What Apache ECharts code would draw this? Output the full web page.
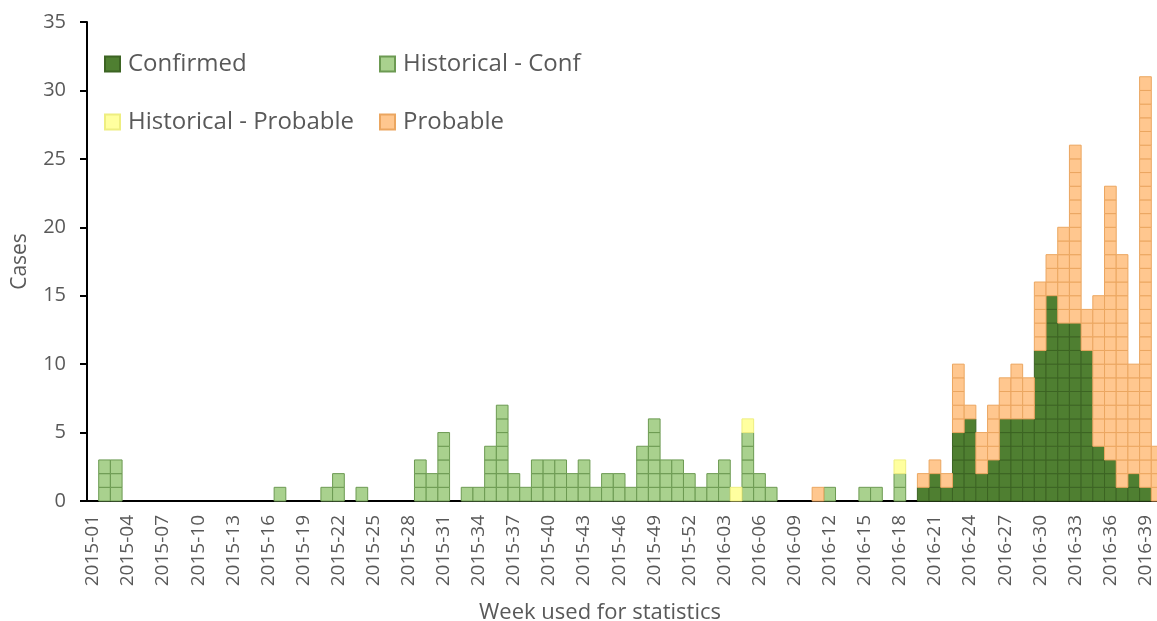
<!DOCTYPE html>
<html>
<head>
<meta charset="utf-8">
<script src="https://cdn.jsdelivr.net/npm/echarts@6/dist/echarts.min.js"></script>
<style>
  html, body { margin: 0; padding: 0; background: #fff; }
  #chart { width: 1157px; height: 621px; }
</style>
</head>
<body>
<div id="chart"></div>
<script>
// weeks 2015-01 .. 2015-52, 2016-01 .. 2016-40 (last one is cut by the right edge)
var weeks = [];
for (var w = 1; w <= 52; w++) weeks.push('2015-' + (w < 10 ? '0' : '') + w);
for (var w2 = 1; w2 <= 40; w2++) weeks.push('2016-' + (w2 < 10 ? '0' : '') + w2);

// cases per week, 10 weeks per row
var confirmed = [
    0,0,0,0,0,0,0,0,0,0,
    0,0,0,0,0,0,0,0,0,0,
    0,0,0,0,0,0,0,0,0,0,
    0,0,0,0,0,0,0,0,0,0,
    0,0,0,0,0,0,0,0,0,0,
    0,0,0,0,0,0,0,0,0,0,
    0,0,0,0,0,0,0,0,0,0,
    0,1,2,1,5,6,2,3,6,6,
    6,11,15,13,13,11,4,3,1,2,
    1,0
];
var histConf = [
    0,3,3,0,0,0,0,0,0,0,
    0,0,0,0,0,0,1,0,0,0,
    1,2,0,1,0,0,0,0,3,2,
    5,0,1,1,4,7,2,1,3,3,
    3,2,3,1,2,2,1,4,6,3,
    3,2,1,2,3,0,5,2,1,0,
    0,0,0,1,0,0,1,1,0,2,
    0,0,0,0,0,0,0,0,0,0,
    0,0,0,0,0,0,0,0,0,0,
    0,0
];
var histProb = [
    0,0,0,0,0,0,0,0,0,0,
    0,0,0,0,0,0,0,0,0,0,
    0,0,0,0,0,0,0,0,0,0,
    0,0,0,0,0,0,0,0,0,0,
    0,0,0,0,0,0,0,0,0,0,
    0,0,0,0,0,1,1,0,0,0,
    0,0,0,0,0,0,0,0,0,1,
    0,0,0,0,0,0,0,0,0,0,
    0,0,0,0,0,0,0,0,0,0,
    0,0
];
var probable = [
    0,0,0,0,0,0,0,0,0,0,
    0,0,0,0,0,0,0,0,0,0,
    0,0,0,0,0,0,0,0,0,0,
    0,0,0,0,0,0,0,0,0,0,
    0,0,0,0,0,0,0,0,0,0,
    0,0,0,0,0,0,0,0,0,0,
    0,0,1,0,0,0,0,0,0,0,
    0,1,1,1,5,1,3,4,3,4,
    3,5,3,7,13,3,11,20,17,8,
    30,4
];

var seriesNames = ['Confirmed', 'Historical - Conf', 'Historical - Probable', 'Probable'];
var seriesData = [confirmed, histConf, histProb, probable];
var fills = ['#4f7f31', '#a9d18e', '#ffff9f', '#ffc78f'];
var borders = ['#3c6423', '#6c9a52', '#eeee80', '#eba660'];

// one square per case, stacked on top of the previous status
function cellRenderer(fill, border) {
    return function (params, api) {
        var idx = api.value(0), base = api.value(1), n = api.value(2);
        var size = api.size([1, 1]);
        var children = [];
        for (var k = 0; k < n; k++) {
            var p = api.coord([idx, base + k + 1]);
            children.push({
                type: 'rect',
                shape: { x: p[0] - size[0] / 2, y: p[1], width: size[0], height: size[1] },
                style: { fill: fill, stroke: border, lineWidth: 1 }
            });
        }
        return { type: 'group', children: children };
    };
}

var series = [];
var bases = weeks.map(function () { return 0; });
for (var s = 0; s < seriesNames.length; s++) {
    var data = [];
    for (var i = 0; i < weeks.length; i++) {
        data.push([i, bases[i], seriesData[s][i]]);
        bases[i] += seriesData[s][i];
    }
    series.push({
        name: seriesNames[s],
        type: 'custom',
        renderItem: cellRenderer(fills[s], borders[s]),
        itemStyle: { color: fills[s], borderColor: borders[s], borderWidth: 1 },
        encode: { x: 0, y: [1, 2] },
        data: data
    });
}

var font = 'Open Sans';
function legendAt(name, left, top) {
    return {
        left: left,
        top: top,
        data: [name],
        itemWidth: 15,
        itemHeight: 15,
        icon: 'rect',
        textStyle: { fontFamily: font, fontSize: 24, lineHeight: 30, color: '#595959', padding: [0, 0, 0, 3] }
    };
}

var chart = echarts.init(document.getElementById('chart'));
chart.setOption({
    animation: false,
    legend: [
        legendAt('Confirmed', 99, 44),
        legendAt('Historical - Conf', 374, 44),
        legendAt('Historical - Probable', 99, 102),
        legendAt('Probable', 374, 102)
    ],
    grid: { left: 87, right: -6, top: 22, bottom: 120, outerBoundsMode: 'none' },
    xAxis: {
        type: 'category',
        data: weeks,
        name: 'Week used for statistics',
        nameLocation: 'middle',
        nameGap: 101,
        nameTextStyle: { fontFamily: font, fontSize: 22, color: '#595959', padding: [0, 50, 0, 0] },
        axisLine: { lineStyle: { color: '#000', width: 2 } },
        axisTick: { interval: 0, length: 6, lineStyle: { color: '#000', width: 2 } },
        axisLabel: { interval: 2, rotate: 90, fontFamily: font, fontSize: 19, color: '#595959', margin: 14 }
    },
    yAxis: {
        type: 'value',
        min: 0,
        max: 35,
        interval: 5,
        name: 'Cases',
        nameLocation: 'middle',
        nameGap: 56,
        nameTextStyle: { fontFamily: font, fontSize: 21, color: '#595959' },
        splitLine: { show: false },
        axisLine: { show: true, lineStyle: { color: '#000', width: 2 } },
        axisTick: { show: true, length: 7, lineStyle: { color: '#000', width: 2 } },
        axisLabel: { fontFamily: font, fontSize: 20, color: '#595959', margin: 21 }
    },
    series: series
});
</script>
</body>
</html>
